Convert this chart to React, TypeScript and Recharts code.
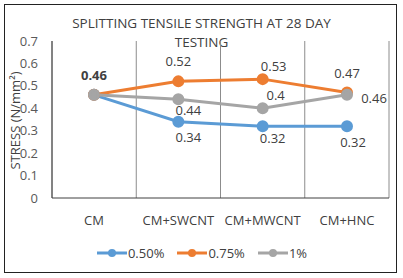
import { LineChart, Line, XAxis, YAxis, CartesianGrid, Legend, LabelList } from "recharts";

// categorias e valores
const categories = ["CM", "CM+SWCNT", "CM+MWCNT", "CM+HNC"];
const gridPositions = [0, 1, 2, 3, 4];
const yTicks = [0, 0.1, 0.2, 0.3, 0.4, 0.5, 0.6, 0.7];

const s050 = [0.46, 0.34, 0.32, 0.32];
const s075 = [0.46, 0.52, 0.53, 0.47];
const s100 = [0.46, 0.44, 0.4, 0.46];

// deslocamento dos rótulos de cada ponto (null = sem rótulo)
const offs050: ([number, number] | null)[] = [null, [10, 17], [10, 13], [6, 17]];
const offs075: ([number, number] | null)[] = [[0, -18], [0, -19], [11, -12], [0, -18]];
const offs100: ([number, number] | null)[] = [null, [10, 12], [13, -12], [27, 5]];

const data = categories.map((name, i) => ({
  name,
  a: s050[i],
  b: s075[i],
  c: s100[i],
}));

const FONT = "'Open Sans', sans-serif";

const labelRenderer = (offs: ([number, number] | null)[], boldFirst = false) => (props: any) => {
  const { x, y, value, index } = props;
  const o = offs[index];
  if (!o) return null;
  return (
    <text
      x={x + o[0]}
      y={y + o[1]}
      textAnchor="middle"
      dominantBaseline="middle"
      fontSize={13}
      fontFamily={FONT}
      fontWeight={boldFirst && index === 0 ? 700 : 400}
      fill="#404040"
    >
      {value}
    </text>
  );
};

const renderLegend = () => {
  const items = [
    { color: "#5B9BD5", name: "0.50%" },
    { color: "#ED7D31", name: "0.75%" },
    { color: "#A5A5A5", name: "1%" },
  ];
  return (
    <div style={{ display: "flex", justifyContent: "center", gap: 12, fontFamily: FONT, fontSize: 13, color: "#404040" }}>
      {items.map((it) => (
        <div key={it.name} style={{ display: "flex", alignItems: "center" }}>
          <svg width={32} height={10}>
            <line x1={1} y1={5} x2={31} y2={5} stroke={it.color} strokeWidth={3} />
            <circle cx={16} cy={5} r={4} fill={it.color} />
          </svg>
          <span>{it.name}</span>
        </div>
      ))}
    </div>
  );
};

// linhas verticais nas fronteiras entre categorias
const gridGenerator = ({ offset }: any) =>
  gridPositions.map((i) => offset.left + (i * offset.width) / categories.length);

const App = () => {
  return (
    <div style={{ position: "absolute", left: 0, top: 0, width: 403, height: 278, background: "#fff" }}>
      <div
        style={{
          position: "absolute",
          left: 4,
          top: 4,
          width: 391,
          height: 267,
          border: "1px solid #222",
        }}
      />
      <div
        style={{
          position: "absolute",
          left: 0,
          width: 403,
          top: 14,
          textAlign: "center",
          fontFamily: FONT,
          fontSize: 13.5,
          color: "#404040",
          lineHeight: "19px",
        }}
      >
        SPLITTING TENSILE STRENGTH AT 28 DAY
        <br />
        TESTING
      </div>
      <LineChart width={403} height={278} data={data} margin={{ top: 41, right: 14, left: 0, bottom: 22 }}>
        <CartesianGrid horizontal={false} stroke="#8c8c8c" verticalCoordinatesGenerator={gridGenerator} />
        <XAxis
          dataKey="name"
          padding={{ left: 42, right: 42 }}
          height={40}
          tickLine={false}
          tickMargin={12}
          stroke="#404040"
          tick={{ fill: "#404040", fontSize: 13, fontFamily: FONT, dy: 0 }}
        />
        <YAxis
          domain={[0, 0.7]}
          ticks={yTicks}
          interval={0}
          width={52}
          tickSize={0}
          tickMargin={14}
          stroke="#404040"
          tick={{ fill: "#595959", fontSize: 13, fontFamily: FONT }}
          label={{
            value: "STRESS (N/mm²)",
            angle: -90,
            position: "insideLeft",
            dx: 10,
            dy: 50,
            style: { fill: "#404040", fontSize: 13, fontFamily: FONT },
          }}
        />
        <Legend content={renderLegend} wrapperStyle={{ top: 244, left: 0, width: 403 }} />
        <Line dataKey="a" name="0.50%" stroke="#5B9BD5" strokeWidth={3} dot={{ r: 4.5, fill: "#5B9BD5", stroke: "#5B9BD5" }} isAnimationActive={false}>
          <LabelList dataKey="a" content={labelRenderer(offs050)} />
        </Line>
        <Line dataKey="b" name="0.75%" stroke="#ED7D31" strokeWidth={3} dot={{ r: 4.5, fill: "#ED7D31", stroke: "#ED7D31" }} isAnimationActive={false}>
          <LabelList dataKey="b" content={labelRenderer(offs075, true)} />
        </Line>
        <Line dataKey="c" name="1%" stroke="#A5A5A5" strokeWidth={3} dot={{ r: 4.5, fill: "#A5A5A5", stroke: "#A5A5A5" }} isAnimationActive={false}>
          <LabelList dataKey="c" content={labelRenderer(offs100)} />
        </Line>
      </LineChart>
    </div>
  );
};

export default App;
